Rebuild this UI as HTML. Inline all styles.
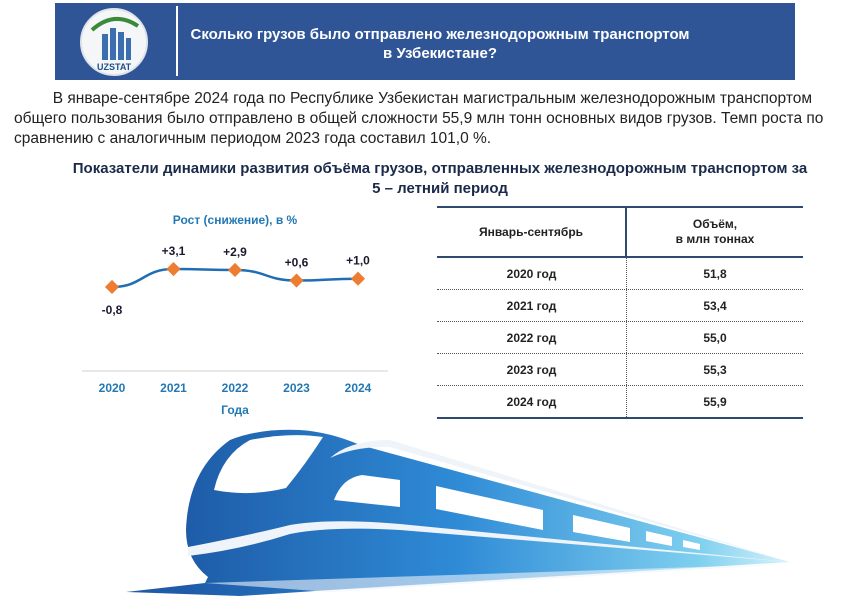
<!DOCTYPE html>
<html><head><meta charset="utf-8"><style>
body{margin:0;width:850px;height:600px;background:#fff;overflow:hidden;position:relative;font-family:"Liberation Sans",Arial,sans-serif}
.abs{position:absolute}
</style></head><body>
<div class="abs" style="left:55px;top:3px;width:740px;height:77px;background:#2f5597"></div>
<div class="abs" style="left:80px;top:8px;width:64px;height:64px;border-radius:50%;background:#f4f6f8;border:2px solid #dfe4ea"></div>
<svg class="abs" style="left:80px;top:8px" width="68" height="68">
<path d="M12 22 Q34 2 58 18" stroke="#3a8a3a" stroke-width="4" fill="none"/>
<rect x="22" y="26" width="6" height="26" fill="#3b6fb0"/><rect x="30" y="20" width="6" height="32" fill="#3b6fb0"/><rect x="38" y="24" width="6" height="28" fill="#3b6fb0"/><rect x="46" y="30" width="5" height="22" fill="#3b6fb0"/>
<text x="17" y="62" font-size="9" font-weight="bold" fill="#1f4e8c" font-family="Liberation Sans,sans-serif">UZSTAT</text></svg>
<div class="abs" style="left:176px;top:6px;width:2px;height:70px;background:#fff"></div>
<div class="abs" style="left:180px;top:25px;width:520px;text-align:center;color:#fff;font-weight:bold;font-size:15px;line-height:19px">Сколько грузов было отправлено железнодорожным транспортом<br>в Узбекистане?</div>
<div class="abs" style="left:14px;top:89px;width:820px;font-size:15.5px;line-height:20px;color:#222">&nbsp;&nbsp;&nbsp;&nbsp;&nbsp;&nbsp;&nbsp;&nbsp;&nbsp;В январе-сентябре 2024 года по Республике Узбекистан магистральным железнодорожным транспортом общего пользования было отправлено в общей сложности 55,9 млн тонн основных видов грузов. Темп роста по сравнению с аналогичным периодом 2023 года составил 101,0 %.</div>
<div class="abs" style="left:40px;top:159px;width:800px;text-align:center;font-size:15px;font-weight:bold;line-height:20px;color:#1a2a4a">Показатели динамики развития объёма грузов, отправленных железнодорожным транспортом за<br>5 – летний период</div>

<svg class="abs" style="left:0;top:200px" width="430" height="230" id="chart">
<text x="235" y="24" text-anchor="middle" font-size="12" font-weight="bold" fill="#2278b5">Рост (снижение), в %</text>
<line x1="82" y1="171" x2="388" y2="171" stroke="#d0d0d0" stroke-width="1"/>
<text x="235" y="214" text-anchor="middle" font-size="12" font-weight="bold" fill="#2278b5">Года</text>
</svg>
<script>
const years=['2020','2021','2022','2023','2024'];
const growth=[-0.8,3.1,2.9,0.6,1.0];
const growthLabels=['-0,8','+3,1','+2,9','+0,6','+1,0'];
(function(){
const svg=document.getElementById('chart');const NS='http://www.w3.org/2000/svg';
const x=i=>112+i*61.5;const y=v=>83.3-v*4.6;
let d='';
growth.forEach((v,i)=>{const px=x(i),py=y(v);
 if(i==0)d='M'+px+' '+py;else{const p0=x(i-1),q0=y(growth[i-1]);const m=(px-p0)/2;d+=` C${p0+m} ${q0} ${px-m} ${py} ${px} ${py}`;}});
const path=document.createElementNS(NS,'path');path.setAttribute('d',d);path.setAttribute('stroke','#1f6db3');path.setAttribute('stroke-width','2.5');path.setAttribute('fill','none');


svg.appendChild(path);
growth.forEach((v,i)=>{const px=x(i),py=y(v);
 const m=document.createElementNS(NS,'rect');m.setAttribute('x',px-5);m.setAttribute('y',py-5);m.setAttribute('width',10);m.setAttribute('height',10);m.setAttribute('fill','#ed7d31');m.setAttribute('transform',`rotate(45 ${px} ${py})`);
 
 
 svg.appendChild(m);
 const t=document.createElementNS(NS,'text');t.setAttribute('x',px);t.setAttribute('y',v<0?py+27:py-14);t.setAttribute('text-anchor','middle');t.setAttribute('font-size','12');t.setAttribute('font-weight','bold');t.setAttribute('fill','#1a1a2e');t.textContent=growthLabels[i];
 
 
 svg.appendChild(t);
 const yl=document.createElementNS(NS,'text');yl.setAttribute('x',px);yl.setAttribute('y',192);yl.setAttribute('text-anchor','middle');yl.setAttribute('font-size','12');yl.setAttribute('font-weight','bold');yl.setAttribute('fill','#2278b5');yl.textContent=years[i];
 
 
 svg.appendChild(yl);
});
})();
</script>

<div class="abs" style="left:437px;top:206px;width:366px;font-size:12px;font-weight:bold;color:#222">
<div style="display:flex;height:48px;border-top:2px solid #2f4a6e;border-bottom:2px solid #2f4a6e">
<div style="width:188px;border-right:2px solid #2f4a6e;display:flex;align-items:center;justify-content:center">Январь-сентябрь</div>
<div style="flex:1;display:flex;align-items:center;justify-content:center;text-align:center;line-height:15px">Объём,<br>в млн тоннах</div></div>
<div id="rows"></div>
<div style="border-top:2px solid #2f4a6e"></div>
</div>
<script>
const rowYears=['2020 год','2021 год','2022 год','2023 год','2024 год'];
const volumes=['51,8','53,4','55,0','55,3','55,9'];
(function(){const c=document.getElementById('rows');
rowYears.forEach((r,i)=>{const d=document.createElement('div');


d.style.cssText='display:flex;height:31px;'+(i<4?'border-bottom:1px dotted #555;':'');
d.innerHTML=`<div style="width:189px;border-right:1px dotted #555;display:flex;align-items:center;justify-content:center">${r}</div><div style="flex:1;display:flex;align-items:center;justify-content:center">${volumes[i]}</div>`;
c.appendChild(d);});})();
</script>

<svg class="abs" style="left:0;top:0" width="850" height="600">
<defs><linearGradient id="g" x1="186" x2="790" y1="0" y2="0" gradientUnits="userSpaceOnUse"><stop offset="0" stop-color="#1e5ca8"/><stop offset="0.45" stop-color="#2f8bd6"/><stop offset="0.85" stop-color="#7fd0ef"/><stop offset="1" stop-color="#d8f2fb"/></linearGradient></defs>
<path d="M126 592 L205 583 L208 577 Q186 560 186 530 Q188 470 230 440 Q260 428 300 430 Q330 432 360 445 L790 562 L330 590 L240 596 Z" fill="url(#g)"/>
<path d="M214 490 Q222 455 250 440 Q290 432 323 437 Q305 465 286 488 Q250 497 214 490 Z" fill="#fff"/>
<path d="M334 500 Q342 478 362 475 L400 480 L400 507 Z" fill="#fff"/>
<path d="M436 486 L543 510 L543 530 L436 509 Z" fill="#fff"/>
<path d="M573 515 L630 528 L630 542 L573 532 Z" fill="#fff"/>
<path d="M646 531 L672 537 L672 546 L646 541 Z" fill="#fff"/>
<path d="M683 540 L700 544 L700 550 L683 547 Z" fill="#fff"/>
<path d="M188 547 Q250 535 290 525 Q330 518 400 524 L790 562 L400 530 Q330 526 290 534 Q240 550 188 556 Z" fill="#eef4fa"/>
<path d="M330 458 Q350 440 390 440 L790 562 L390 447 Q355 446 330 458 Z" fill="#eef4fa"/>
<path d="M205 583 L790 564 L330 592 Z" fill="#eef4fa" opacity="0.6"/>
</svg>
</body></html>
